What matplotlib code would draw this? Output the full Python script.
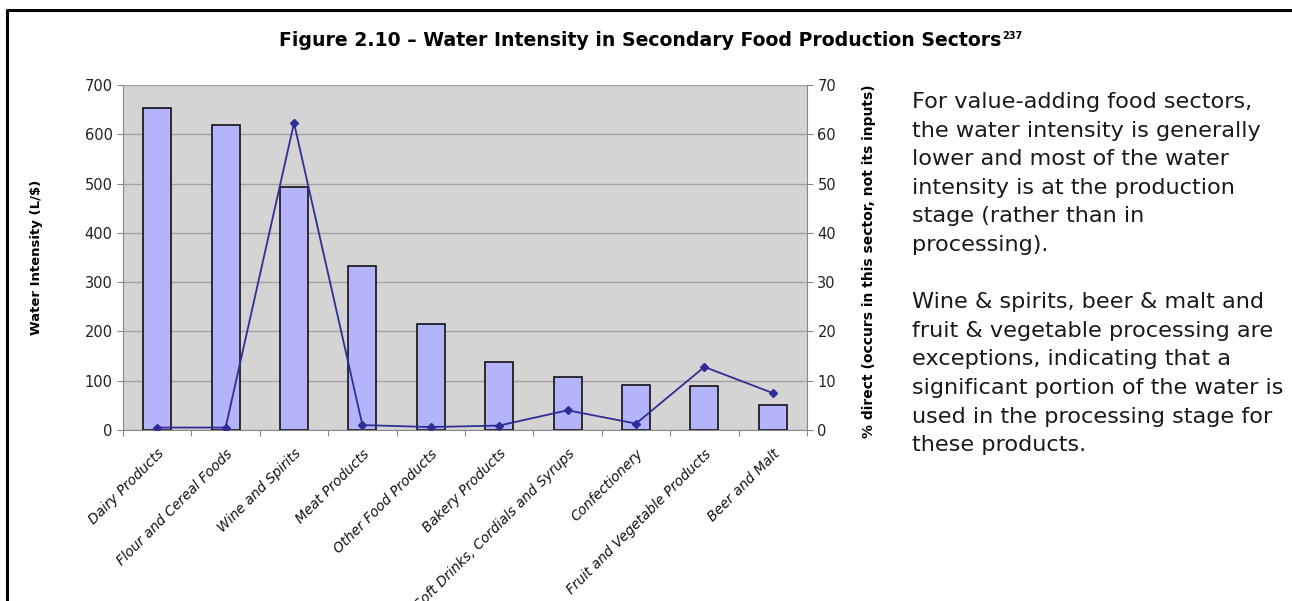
import numpy as np
import matplotlib
matplotlib.use("Agg")
import matplotlib.pyplot as plt
from matplotlib.lines import Line2D

categories = ["Dairy Products", "Flour and Cereal Foods", "Wine and Spirits",
              "Meat Products", "Other Food Products", "Bakery Products",
              "Soft Drinks, Cordials and Syrups", "Confectionery",
              "Fruit and Vegetable Products", "Beer and Malt"]
water_intensity = [653, 619, 494, 333, 215, 138, 108, 92, 89, 50]
pct_direct = [0.5, 0.5, 62.3, 1.0, 0.6, 0.9, 4.0, 1.3, 12.8, 7.5]
left_ticks = [0, 100, 200, 300, 400, 500, 600, 700]
right_ticks = [0, 10, 20, 30, 40, 50, 60, 70]

body_lines = ["For value-adding food sectors,",
              "the water intensity is generally",
              "lower and most of the water",
              "intensity is at the production",
              "stage (rather than in",
              "processing).",
              "",
              "Wine & spirits, beer & malt and",
              "fruit & vegetable processing are",
              "exceptions, indicating that a",
              "significant portion of the water is",
              "used in the processing stage for",
              "these products."]

plt.rcParams["font.family"] = ["DejaVu Sans"]

W, H = 1292, 601
fig = plt.figure(figsize=(W / 100, H / 100), dpi=100)


def fx(px):
    return px / W


def fy(py):
    return 1 - py / H


def fit(txt, width_px):
    # scale a text's font size so its long side is about width_px
    fig.canvas.draw()
    bb = txt.get_window_extent()
    side = max(bb.width, bb.height)
    txt.set_fontsize(txt.get_fontsize() * width_px / side)


# box border (left and top edges visible)
fig.add_artist(Line2D([fx(7), fx(7), fx(1292)], [fy(601), fy(10), fy(10)],
                      color="black", lw=2.2, transform=fig.transFigure))

x0, x1, ytop, ybot = 123, 807, 85, 430
ax = fig.add_axes([fx(x0), fy(ybot), (x1 - x0) / W, (ybot - ytop) / H])
ax.set_facecolor("#d4d4d4")
ax.set_axisbelow(True)

x = np.arange(len(categories))
ax.bar(x, water_intensity, width=0.41, color="#b4b4fc", edgecolor="#111111", lw=1.2, zorder=2)
ax.set_xlim(-0.5, len(categories) - 0.5)
ax.set_ylim(0, 700)
ax.set_yticks(left_ticks)
ax.yaxis.grid(True, color="#a2a2a2", lw=1)
ax.set_xticks(np.arange(-0.5, len(categories), 1))
ax.set_xticklabels([])
ax.set_xticks(x, minor=True)
ax.set_xticklabels(categories, minor=True, rotation=45, ha="right",
                   rotation_mode="anchor", fontsize=9.8, style="italic", color="#111111")
ax.tick_params(axis="x", which="minor", length=0, pad=12)
ax.tick_params(axis="x", which="major", length=4, color="#888888")
ax.tick_params(axis="y", length=4, color="#888888", labelsize=10.5, labelcolor="#222222")
for s in ["top", "right"]:
    ax.spines[s].set_visible(False)
for s in ["left", "bottom"]:
    ax.spines[s].set_color("#888888")
ax.set_ylabel("Water Intensity (L/$)", fontsize=9.5, fontweight="bold")
ax.yaxis.set_label_coords((43 - x0) / (x1 - x0), 0.5)

ax2 = ax.twinx()
ax2.plot(x, pct_direct, color="#2e2e96", lw=1.3, marker="D", ms=4.5, zorder=3)
ax2.set_ylim(0, 70)
ax2.set_yticks(right_ticks)
ax2.tick_params(axis="y", length=4, color="#888888", labelsize=10.5, labelcolor="#222222")
for s in ["top", "left", "bottom"]:
    ax2.spines[s].set_visible(False)
ax2.spines["right"].set_color("#888888")
ylab2 = ax2.set_ylabel("% direct (occurs in this sector, not its inputs)", fontsize=10,
                       fontweight="bold")
ax2.yaxis.set_label_coords((862 - x0) / (x1 - x0), 0.49)
fit(ylab2, 352)

# title with superscript note number
title = fig.text(fx(640), fy(40), "Figure 2.10 \u2013 Water Intensity in Secondary Food Production Sectors",
                 ha="center", va="center", fontsize=12, fontweight="bold")
fit(title, 720)
fig.canvas.draw()
bb = title.get_window_extent()
fig.text(bb.x1 / W + 0.001, fy(36), "237", fontsize=7, fontweight="bold", va="center")

# side note, sized so the widest line just fits inside the box
widest = max(body_lines, key=len)
probe = fig.text(0, 0, widest, fontsize=13)
fit(probe, 370)
fs = probe.get_fontsize()
probe.remove()
for i, line in enumerate(body_lines):
    fig.text(fx(912), fy(102 + 28.6 * i), line, ha="left", va="center",
             fontsize=fs, color="#1a1a1a")

fig.savefig("out.png", dpi=100)
